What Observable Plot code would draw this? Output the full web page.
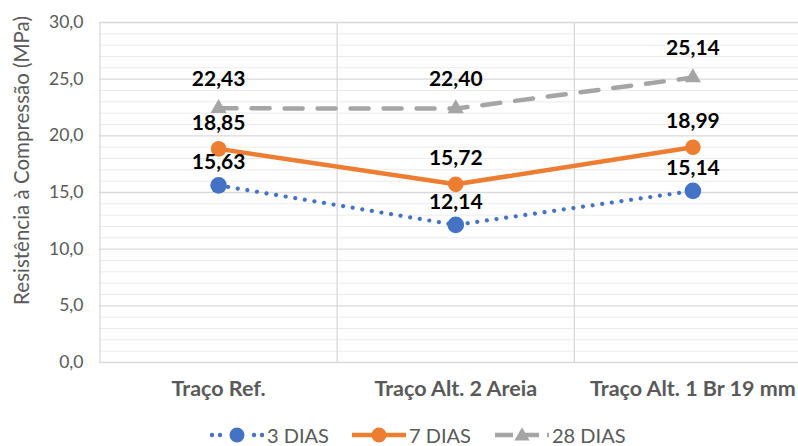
<!DOCTYPE html>
<html><head><meta charset="utf-8">
<script src="https://cdn.jsdelivr.net/npm/d3@7"></script>
<script src="https://cdn.jsdelivr.net/npm/@observablehq/plot@0.6"></script>
<style>
body{margin:0;background:#fff;overflow:hidden;font-family:Lato,"Open Sans",sans-serif;}
#chart{position:relative;width:798px;height:446px;overflow:hidden;}
#chart svg.plot{position:absolute;left:0;top:0;}
#legend{position:absolute;left:0;top:421px;width:798px;height:28px;font-size:20px;color:#595959;white-space:nowrap;}
.item{position:absolute;top:0;height:28px;display:flex;align-items:center;}
.item svg{margin-right:3px;}
</style></head><body><div id="chart"><div id="legend"></div></div>
<script>
const categories = ["Traço Ref.", "Traço Alt. 2 Areia", "Traço Alt. 1 Br 19 mm"];
const seriesNames = ["3 DIAS", "7 DIAS", "28 DIAS"];
const dias3 = [15.63, 12.14, 15.14];
const dias7 = [18.85, 15.72, 18.99];
const dias28 = [22.43, 22.40, 25.14];
const yTicks = [0, 5, 10, 15, 20, 25, 30];
const yTitle = "Resistência à Compressão (MPa)";
const colors = ["#4472C4", "#ED7D31", "#A5A5A5"];

const fmt = v => v.toFixed(2).replace(".", ",");
const tickFmt = v => v.toFixed(1).replace(".", ",");
const rows = (vals, s) => vals.map((v, i) => ({i, v, s}));
const r3 = rows(dias3, seriesNames[0]);
const r7 = rows(dias7, seriesNames[1]);
const r28 = rows(dias28, seriesNames[2]);
const idx = categories.map((_, i) => i);
const minor = d3.range(yTicks[0], yTicks[yTicks.length - 1] + 1, 1).filter(v => !yTicks.includes(v));

const chart = Plot.plot({
  width: 798, height: 420,
  marginLeft: 99, marginRight: 0, marginTop: 22, marginBottom: 58,
  style: {fontFamily: "Lato, 'Open Sans', sans-serif", background: "transparent", overflow: "visible"},
  x: {type: "linear", domain: [-0.5, categories.length - 0.5], range: [99.5, 811]},
  y: {domain: [yTicks[0], yTicks[yTicks.length - 1]], range: [362, 22]},
  marks: [
    Plot.ruleY(minor, {stroke: "#EBEBEB", strokeWidth: 1}),
    Plot.ruleY(yTicks, {stroke: "#D9D9D9", strokeWidth: 1.3}),
    Plot.ruleX(idx.map(i => i - 0.5), {stroke: "#D9D9D9", strokeWidth: 1.3}),
    Plot.axisY({ticks: yTicks, tickFormat: tickFmt, tickSize: 0, tickPadding: 16, fontSize: 17.5, fill: "#595959", label: null}),
    Plot.axisX({ticks: idx, tickFormat: i => categories[i], tickSize: 0, tickPadding: 18, fontSize: 21.5, fontWeight: "bold", fill: "#595959", label: null}),
    Plot.text([yTitle], {frameAnchor: "left", textAnchor: "middle", rotate: -90, dx: -77, dy: -32, fill: "#595959", fontSize: 20.5}),
    Plot.line(r28, {x: "i", y: "v", stroke: colors[2], strokeWidth: 4.5, strokeDasharray: "18 15"}),
    Plot.line(r7, {x: "i", y: "v", stroke: colors[1], strokeWidth: 4.5, strokeLinejoin: "round"}),
    Plot.line(r3, {x: "i", y: "v", stroke: colors[0], strokeWidth: 4.2, strokeDasharray: "0.01 9.7", strokeLinecap: "round"}),
    Plot.dot(r3, {x: "i", y: "v", r: 8.3, fill: colors[0], stroke: null}),
    Plot.dot(r7, {x: "i", y: "v", r: 7.8, fill: colors[1], stroke: null}),
    Plot.dot(r28, {x: "i", y: "v", r: 6, symbol: "triangle", fill: colors[2], stroke: null}),
    Plot.text(r3, {x: "i", y: "v", text: d => fmt(d.v), dy: -23, fontSize: 21, fontWeight: "bold", fill: "#000"}),
    Plot.text(r7, {x: "i", y: "v", text: d => fmt(d.v), dy: -26, fontSize: 21, fontWeight: "bold", fill: "#000"}),
    Plot.text(r28, {x: "i", y: "v", text: d => fmt(d.v), dy: -29, fontSize: 21, fontWeight: "bold", fill: "#000"})
  ]
});
document.getElementById("chart").prepend(chart);

// legend
const legendLeft = [210, 352, 495];
const legend = d3.select("#legend");
seriesNames.forEach((name, k) => {
  const item = legend.append("div").attr("class", "item").style("left", legendLeft[k] + "px");
  const sw = item.append("svg").attr("width", 54).attr("height", 20);
  if (k === 0) {
    [2, 10, 44, 52].forEach(cx => sw.append("circle").attr("cx", cx).attr("cy", 10).attr("r", 2.2).attr("fill", colors[k]));
  } else {
    const line = sw.append("line").attr("x1", 0).attr("x2", 54).attr("y1", 10).attr("y2", 10)
      .attr("stroke", colors[k]).attr("stroke-width", 4.5);
    if (k === 2) line.attr("stroke-dasharray", "18 8");
  }
  if (k === 2) {
    sw.append("path").attr("d", d3.symbol(d3.symbolTriangle, 100)()).attr("transform", "translate(27,11)").attr("fill", colors[k]);
  } else {
    sw.append("circle").attr("cx", 27).attr("cy", 10).attr("r", 7.5).attr("fill", colors[k]);
  }
  item.append("span").text(name);
});
</script>
</body></html>
